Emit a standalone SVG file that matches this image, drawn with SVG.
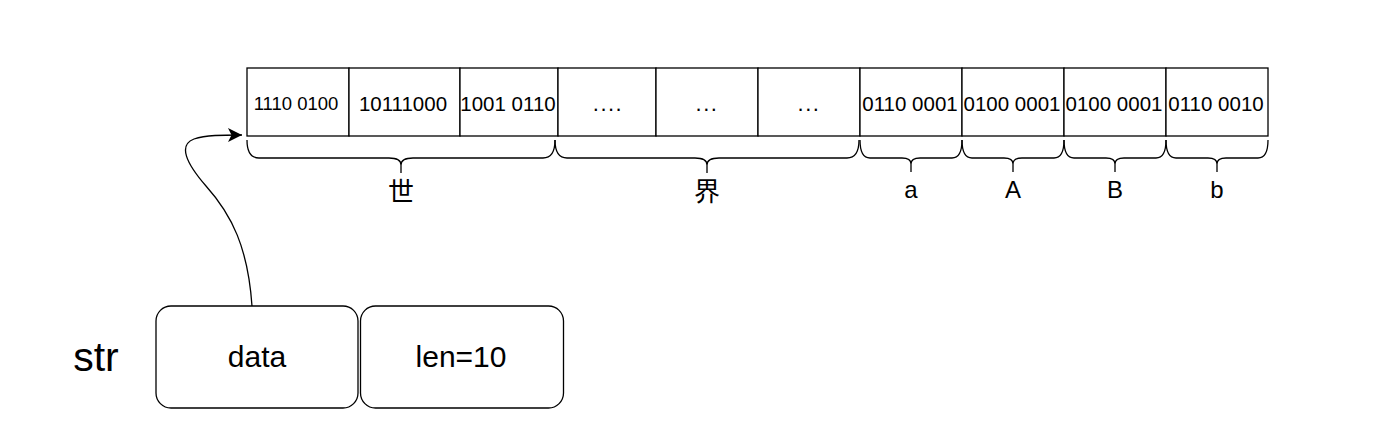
<svg xmlns="http://www.w3.org/2000/svg" width="1378" height="448" viewBox="0 0 1378 448">
<style>
.cell{fill:#fff;stroke:#000;stroke-width:1.3}
.box{fill:#fff;stroke:#000;stroke-width:1.3}
.brace{fill:none;stroke:#000;stroke-width:1.3}
.ct{font-family:"Liberation Sans",Arial,sans-serif;font-size:20.5px;text-anchor:middle;fill:#000}
.dots{letter-spacing:1.5px;font-size:22px}
.lb{font-family:"Liberation Sans",Arial,sans-serif;font-size:24px;text-anchor:middle;fill:#000}
.cjk{font-family:"Noto Sans CJK SC","Liberation Sans",sans-serif;font-size:26px;text-anchor:middle;fill:#000}
.bt{font-family:"Liberation Sans",Arial,sans-serif;font-size:30px;text-anchor:middle;fill:#000}
.conn{fill:none;stroke:#000;stroke-width:1.3}
</style>
<defs>
<marker id="arr" markerUnits="userSpaceOnUse" markerWidth="16" markerHeight="16" viewBox="0 0 16 16" refX="14" refY="8" orient="auto">
<path d="M0,1 L14,8 L0,15 L3.5,8 Z" fill="#000"/>
</marker>
</defs>
<rect width="1378" height="448" fill="#fff"/>

<g id="cells">
<g id="cell1"><rect class="cell" x="247" y="68" width="102" height="68"/><text class="ct" x="296" y="110" style="font-size:18.5px">1110 0100</text></g>
<g id="cell2"><rect class="cell" x="349" y="68" width="111" height="68"/><text class="ct" x="403" y="111">10111000</text></g>
<g id="cell3"><rect class="cell" x="460" y="68" width="98" height="68"/><text class="ct" x="508" y="111">1001 0110</text></g>
<g id="cell4"><rect class="cell" x="558" y="68" width="98" height="68"/><text class="ct dots" x="608" y="111">....</text></g>
<g id="cell5"><rect class="cell" x="656" y="68" width="102" height="68"/><text class="ct dots" x="707" y="111">...</text></g>
<g id="cell6"><rect class="cell" x="758" y="68" width="102" height="68"/><text class="ct dots" x="809" y="111">...</text></g>
<g id="cell7"><rect class="cell" x="860" y="68" width="102" height="68"/><text class="ct" x="910" y="111">0110 0001</text></g>
<g id="cell8"><rect class="cell" x="962" y="68" width="102" height="68"/><text class="ct" x="1012" y="111">0100 0001</text></g>
<g id="cell9"><rect class="cell" x="1064" y="68" width="102" height="68"/><text class="ct" x="1114" y="111">0100 0001</text></g>
<g id="cell10"><rect class="cell" x="1166" y="68" width="102" height="68"/><text class="ct" x="1216" y="111">0110 0010</text></g>
</g>

<g id="braces">
<g id="brace-shi"><path class="brace" d="M247,140 Q247,158 259,158 L389,158 Q401,158 401,165 L401,173 M555,140 Q555,158 543,158 L413,158 Q401,158 401,165"/><text class="cjk" x="401" y="201">世</text></g>
<g id="brace-jie"><path class="brace" d="M555,140 Q555,158 567,158 L695,158 Q707,158 707,165 L707,173 M859,140 Q859,158 847,158 L719,158 Q707,158 707,165"/><text class="cjk" x="707" y="201">界</text></g>
<g id="brace-a"><path class="brace" d="M860,140 Q860,158 870,158 L902,158 Q911,158 911,164 L911,172 M962,140 Q962,158 952,158 L920,158 Q911,158 911,164"/><text class="lb" x="911" y="198">a</text></g>
<g id="brace-A"><path class="brace" d="M962,140 Q962,158 972,158 L1004,158 Q1013,158 1013,164 L1013,172 M1064,140 Q1064,158 1054,158 L1022,158 Q1013,158 1013,164"/><text class="lb" x="1013" y="198">A</text></g>
<g id="brace-B"><path class="brace" d="M1064,140 Q1064,158 1074,158 L1106,158 Q1115,158 1115,164 L1115,172 M1166,140 Q1166,158 1156,158 L1124,158 Q1115,158 1115,164"/><text class="lb" x="1115" y="198">B</text></g>
<g id="brace-b"><path class="brace" d="M1166,140 Q1166,158 1176,158 L1208,158 Q1217,158 1217,164 L1217,172 M1268,140 Q1268,158 1258,158 L1226,158 Q1217,158 1217,164"/><text class="lb" x="1217" y="198">b</text></g>
</g>

<g id="str-label"><text class="bt" x="96" y="371" style="font-size:41px">str</text></g>
<g id="data"><rect class="box" x="156" y="306" width="202" height="102" rx="15" ry="15"/><text class="bt" x="257" y="367">data</text></g>
<g id="len"><rect class="box" x="360.5" y="306" width="203" height="102" rx="15" ry="15"/><text class="bt" x="461" y="367">len=10</text></g>

<g id="connectors">
<path class="conn" marker-end="url(#arr)" d="M252,306 C248,248 232,215 206,186 C186,163 178,145 194,139 C206,135 222,135 242,135"/>
</g>
</svg>
